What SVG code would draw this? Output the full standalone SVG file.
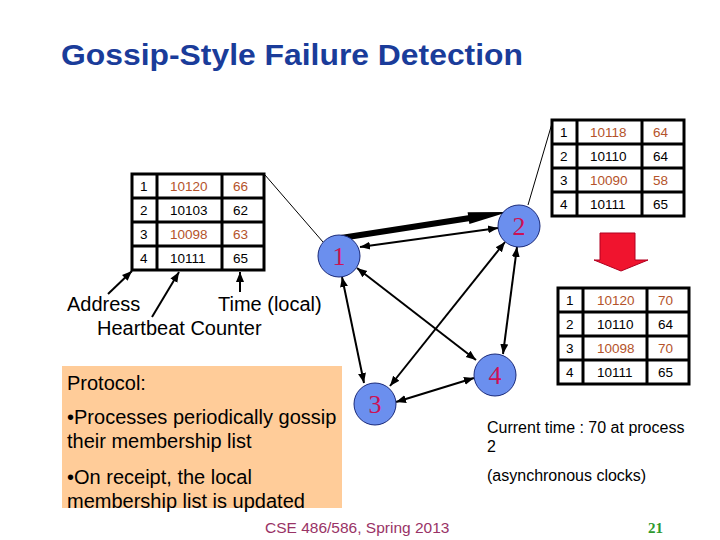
<svg xmlns="http://www.w3.org/2000/svg" width="720" height="540" viewBox="0 0 720 540">
<style>
.tb{fill:#fff;stroke:#000;stroke-width:3}
.tl{stroke:#000;stroke-width:3}
.tt{font-family:"Liberation Sans",Arial,sans-serif;font-size:13.5px;fill:#000}
.tr{fill:#B4532A}
.nd{fill:#6B8FEE;stroke:#1a2a7a;stroke-width:1}
.nl{font-family:"Liberation Serif","Times New Roman",serif;font-size:26px;fill:#CC1155;text-anchor:middle}
.lb{font-family:"Liberation Sans",Arial,sans-serif;font-size:20px;fill:#000}
.sm{font-family:"Liberation Sans",Arial,sans-serif;font-size:16px;fill:#000}
.ed{stroke:#000;stroke-width:2;fill:none;marker-start:url(#ah);marker-end:url(#ah)}
.pt{stroke:#000;stroke-width:2;fill:none;marker-end:url(#ah)}
.th{stroke:#000;stroke-width:1;fill:none}
</style>
<defs>
<marker id="ah" markerUnits="userSpaceOnUse" markerWidth="10" markerHeight="10" viewBox="0 0 10 10" refX="10" refY="5" orient="auto-start-reverse">
<path d="M0,1 L10,5 L0,9 Z" fill="#000"/>
</marker>
</defs>
<rect width="720" height="540" fill="#fff"/>
<text x="61" y="65" font-family="Liberation Sans,Arial,sans-serif" font-weight="bold" font-size="30" fill="#1A3C9A" textLength="462" lengthAdjust="spacingAndGlyphs">Gossip-Style Failure Detection</text>

<g id="table-local">
<rect class="tb" x="132" y="174" width="132" height="96"/>
<line class="tl" x1="157" y1="174" x2="157" y2="270"/>
<line class="tl" x1="222" y1="174" x2="222" y2="270"/>
<line class="tl" x1="132" y1="198" x2="264" y2="198"/>
<line class="tl" x1="132" y1="222" x2="264" y2="222"/>
<line class="tl" x1="132" y1="246" x2="264" y2="246"/>
<text class="tt" x="140" y="191">1</text><text class="tt tr" x="170" y="191">10120</text><text class="tt tr" x="233" y="191">66</text>
<text class="tt" x="140" y="215">2</text><text class="tt" x="170" y="215">10103</text><text class="tt" x="233" y="215">62</text>
<text class="tt" x="140" y="239">3</text><text class="tt tr" x="170" y="239">10098</text><text class="tt tr" x="233" y="239">63</text>
<text class="tt" x="140" y="263">4</text><text class="tt" x="170" y="263">10111</text><text class="tt" x="233" y="263">65</text>
</g>

<g id="table-before">
<rect class="tb" x="552" y="120" width="132" height="96"/>
<line class="tl" x1="577" y1="120" x2="577" y2="216"/>
<line class="tl" x1="642" y1="120" x2="642" y2="216"/>
<line class="tl" x1="552" y1="144" x2="684" y2="144"/>
<line class="tl" x1="552" y1="168" x2="684" y2="168"/>
<line class="tl" x1="552" y1="192" x2="684" y2="192"/>
<text class="tt" x="560" y="137">1</text><text class="tt tr" x="590" y="137">10118</text><text class="tt tr" x="653" y="137">64</text>
<text class="tt" x="560" y="161">2</text><text class="tt" x="590" y="161">10110</text><text class="tt" x="653" y="161">64</text>
<text class="tt" x="560" y="185">3</text><text class="tt tr" x="590" y="185">10090</text><text class="tt tr" x="653" y="185">58</text>
<text class="tt" x="560" y="209">4</text><text class="tt" x="590" y="209">10111</text><text class="tt" x="653" y="209">65</text>
</g>

<g id="table-after">
<rect class="tb" x="558" y="288" width="131" height="96"/>
<line class="tl" x1="583" y1="288" x2="583" y2="384"/>
<line class="tl" x1="647" y1="288" x2="647" y2="384"/>
<line class="tl" x1="558" y1="312" x2="689" y2="312"/>
<line class="tl" x1="558" y1="336" x2="689" y2="336"/>
<line class="tl" x1="558" y1="360" x2="689" y2="360"/>
<text class="tt" x="566" y="305">1</text><text class="tt tr" x="597" y="305">10120</text><text class="tt tr" x="658" y="305">70</text>
<text class="tt" x="566" y="329">2</text><text class="tt" x="597" y="329">10110</text><text class="tt" x="658" y="329">64</text>
<text class="tt" x="566" y="353">3</text><text class="tt tr" x="597" y="353">10098</text><text class="tt tr" x="658" y="353">70</text>
<text class="tt" x="566" y="377">4</text><text class="tt" x="597" y="377">10111</text><text class="tt" x="658" y="377">65</text>
</g>

<g id="red-arrow">
<polygon points="600,233 635,233 635,260 648,260 621,271 594,260 600,260" fill="#F0142E" stroke="#B00020" stroke-width="1"/>
</g>

<g id="connectors">
<line class="th" x1="265" y1="175" x2="323" y2="242"/>
<line class="th" x1="553" y1="120" x2="528" y2="205"/>
<line x1="341" y1="238" x2="470" y2="218" stroke="#000" stroke-width="6"/>
<polygon points="469.4,224 508,212 467.6,212.2" fill="#000"/>
<line class="ed" x1="360" y1="247" x2="498" y2="228"/>
<line class="ed" x1="342" y1="277" x2="364" y2="383"/>
<line class="ed" x1="357" y1="268" x2="476" y2="360"/>
<line class="ed" x1="505" y1="242" x2="390" y2="386"/>
<line class="ed" x1="517" y1="247" x2="503" y2="354"/>
<line class="ed" x1="396" y1="402" x2="474" y2="378"/>
<line class="pt" x1="108" y1="294" x2="132" y2="271"/>
<line class="pt" x1="152" y1="317" x2="179" y2="272"/>
<line class="pt" x1="240" y1="292" x2="240" y2="272"/>
</g>

<g id="node1"><circle class="nd" cx="339" cy="256" r="21"/><text class="nl" x="339" y="265">1</text></g>
<g id="node2"><circle class="nd" cx="519" cy="226" r="21"/><text class="nl" x="519" y="235">2</text></g>
<g id="node3"><circle class="nd" cx="375" cy="404" r="21"/><text class="nl" x="375" y="413">3</text></g>
<g id="node4"><circle class="nd" cx="495" cy="375" r="21"/><text class="nl" x="495" y="384">4</text></g>

<text class="lb" x="67" y="311">Address</text>
<text class="lb" x="218" y="311">Time (local)</text>
<text class="lb" x="97" y="335">Heartbeat Counter</text>

<g id="protocol">
<rect x="62" y="366" width="280" height="142" fill="#FFCC99"/>
<text class="lb" x="67" y="390">Protocol:</text>
<text class="lb" x="67" y="424">•Processes periodically gossip</text>
<text class="lb" x="67" y="448">their membership list</text>
<text class="lb" x="67" y="484">•On receipt, the local</text>
<text class="lb" x="67" y="508">membership list is updated</text>
</g>

<text class="sm" x="487" y="433">Current time : 70 at process</text>
<text class="sm" x="487" y="452">2</text>
<text class="sm" x="487" y="481">(asynchronous clocks)</text>

<text x="265" y="533" font-family="Liberation Sans,Arial,sans-serif" font-size="15.5" fill="#993366">CSE 486/586, Spring 2013</text>
<text x="648" y="533" font-family="Liberation Serif,Times New Roman,serif" font-weight="bold" font-size="15" fill="#2E9A2E">21</text>
</svg>
